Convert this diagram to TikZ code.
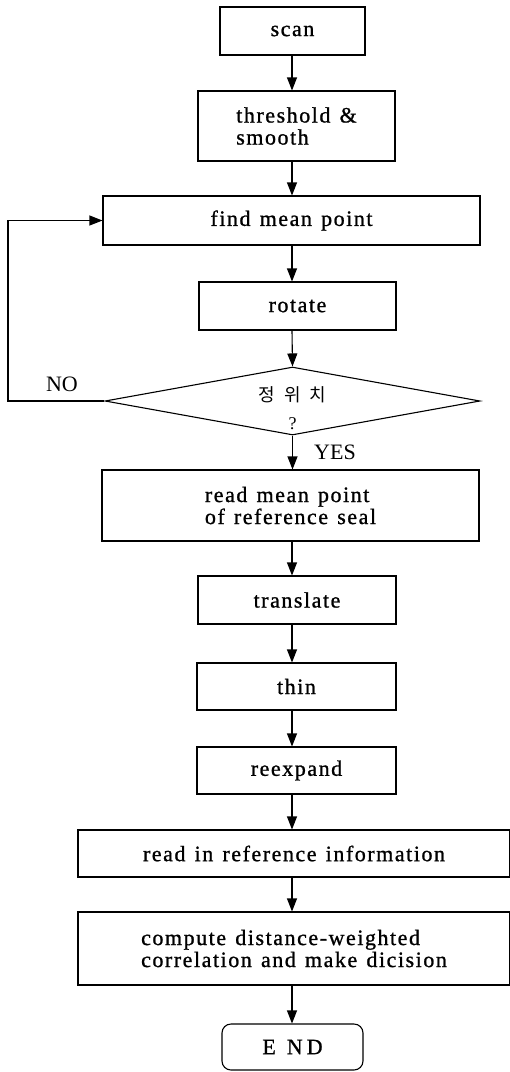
\documentclass[tikz,border=0pt]{standalone}
\usepackage{fontspec}
\setmainfont{Liberation Serif}
\newfontfamily\boxfont{Liberation Serif}[LetterSpace=7, FakeBold=1, WordSpace=1.3]
\newfontfamily\kofont{Noto Sans CJK KR}
\usepackage{tikz}
\usetikzlibrary{arrows.meta}
\usetikzlibrary{shapes.geometric}
\usetikzlibrary{positioning}
\tikzset{
    box/.style={draw=black, rectangle, inner sep=0pt, align=left,
        font=\boxfont\fontsize{22}{22}\selectfont},
    endbox/.style={box, rounded corners=9pt},
    decision/.style={draw=black, diamond, inner sep=0pt},
    asktext/.style={align=center, yshift=-7pt, font=\fontsize{18}{28}\selectfont},
    flow/.style={draw=black, -{Triangle[length=13pt,width=10pt]}},
    answer/.style={font=\fontsize{22}{24}\selectfont},
}

\begin{document}
\begin{tikzpicture}[x=1pt, y=-1pt, line width=1.1pt]
	\useasboundingbox (0,0) rectangle (510,1072);
	\coordinate (axis) at (292,0);
	\coordinate (loop) at (8,0);
	\node[box, minimum width=145pt, minimum height=48pt] (scan) at (292.5,31) {scan};
	\node[box, minimum width=197pt, minimum height=70pt] (smooth) at (296.5,126) {threshold \&\\smooth};
	\node[box, minimum width=377pt, minimum height=49pt] (mean) at (291.5,220.5) {find mean point};
	\node[box, minimum width=197pt, minimum height=48pt] (rotate) at (297.5,306) {rotate};
	\node[decision, minimum width=375pt, minimum height=68pt,
		label={[asktext]center:{\kofont 정\enspace 위\enspace 치}\\?}] (check) at (292.5,401) {};
	\node[box, minimum width=377pt, minimum height=71pt] (seal) at (290.5,505.5) {read mean point\\of reference seal};
	\node[box, minimum width=198pt, minimum height=48pt] (translate) at (297,600) {translate};
	\node[box, minimum width=199pt, minimum height=47pt] (thin) at (296.5,686.5) {thin};
	\node[box, minimum width=199pt, minimum height=47pt] (reexpand) at (296.5,770.5) {reexpand};
	\node[box, minimum width=432pt, minimum height=47pt] (refinfo) at (294,853.5) {read in reference information};
	\node[box, minimum width=432pt, minimum height=73pt] (decide) at (294,948.5) {compute distance-weighted\\correlation and make dicision};
	\node[endbox, minimum width=141pt, minimum height=46pt] (end) at (292.5,1047) {E\hspace{11pt}N\hspace{4pt}D};
	% connectors down the main column
	\draw[flow] (axis |- scan.south) -- (axis |- smooth.north);
	\draw[flow] (axis |- smooth.south) -- (axis |- mean.north);
	\draw[flow] (axis |- mean.south) -- (axis |- rotate.north);
	\draw[flow] (axis |- rotate.south) -- (check.north);
	\draw[flow] (check.south) -- (check.south |- seal.north);
	\draw[flow] (axis |- seal.south) -- (axis |- translate.north);
	\draw[flow] (axis |- translate.south) -- (axis |- thin.north);
	\draw[flow] (axis |- thin.south) -- (axis |- reexpand.north);
	\draw[flow] (axis |- reexpand.south) -- (axis |- refinfo.north);
	\draw[flow] (axis |- refinfo.south) -- (axis |- decide.north);
	\draw[flow] (axis |- decide.south) -- (axis |- end.north);
	% back to find mean point
	\draw[flow] (check.west) -- (check.west -| loop) |- (mean.west);
	\node[answer] (no) at (62,384) {NO};
	\node[answer] (yes) at (335,452) {YES};
\end{tikzpicture}
\end{document}
